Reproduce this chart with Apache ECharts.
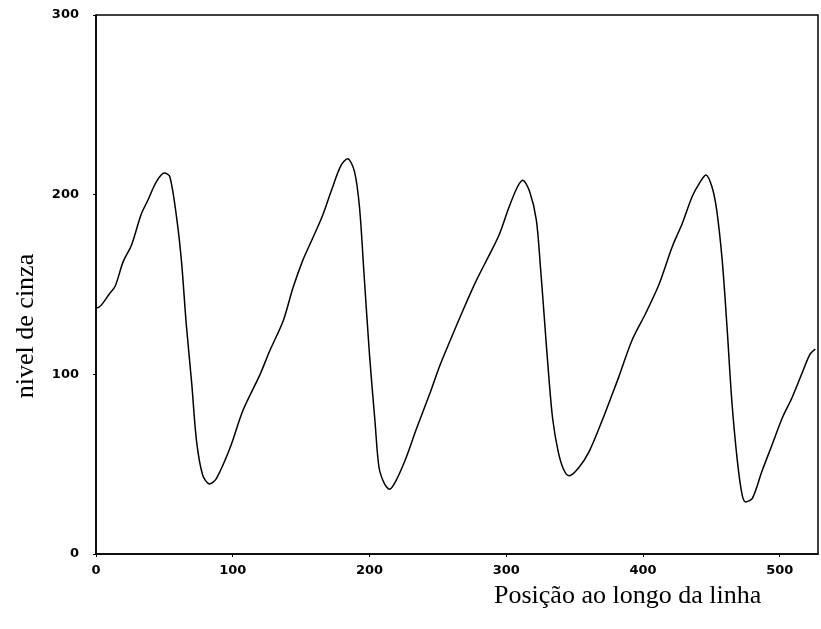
<!DOCTYPE html>
<html>
<head>
<meta charset="utf-8">
<script src="https://cdn.jsdelivr.net/npm/echarts@6/dist/echarts.min.js"></script>
<style>html,body{margin:0;padding:0;background:#fff;}#c{width:821px;height:629px;}</style>
</head>
<body>
<div id="c"></div>
<script>
const xPos = [0,1,10,14,20,26,33,38,44,50,54,59,62.5,66,70,73.5,78,83,88,98,107.5,120,127,137,144,151,158.6,166,172,179,184,189,192.7,196,200,204,207,211,214.6,219.5,227,234,244,251,258,268,278,288,295,302,308,312,317,322,325,328,331,334,338,342,346,353,360.6,370,377.6,382.5,392,402,411.7,421.4,428.7,436,441,446,450.6,454,458,461.5,465,469,472.5,475,480,487,494.5,502,509,516,522,526];
const grayLevel = [137,137,145,149,163,172,189,197,207,212,210,187,163,128,95,63,44,39,42,59,80,100,113,130,148,163,176,189,202,216,220,213,193,156,111,74,48,39,36,41,54,69,89,104,117,135,152,167,178,193,204,208,202,186,160,130,100,75,57,47,43.5,48,57,74,89,99,119,134,150,171,184,199,206,211,204,191,163,126,85,52,33,29,31,46,61,76,87,100,111,114];
const xTicks = [0,100,200,300,400,500];
const yTicks = [0,100,200,300];
const xTitle = 'Posição ao longo da linha';
const yTitle = 'nivel de cinza';

const data = xPos.map((x,i)=>[x, grayLevel[i]]);
const chart = echarts.init(document.getElementById('c'), null, {renderer:'canvas'});
const labelStyle = {color:'#000', fontFamily:'DejaVu Sans', fontWeight:'bold', fontSize:13};
chart.setOption({
  animation:false,
  backgroundColor:'#fff',
  grid:{left:96,right:3,top:15,bottom:75,show:true,borderColor:'#000',borderWidth:1.5,backgroundColor:'transparent'},
  xAxis:{type:'value',min:0,max:528,interval:100,
    axisLine:{show:true,onZero:false,lineStyle:{color:'#000',width:1.5}},
    axisTick:{show:true,length:3,lineStyle:{color:'#000'}},
    splitLine:{show:false},
    axisLabel:Object.assign({margin:10,showMaxLabel:false,formatter:v=>xTicks.includes(v)?String(v):''},labelStyle)},
  yAxis:{type:'value',min:0,max:300,interval:100,
    axisLine:{show:true,lineStyle:{color:'#000',width:1.5}},
    axisTick:{show:true,length:3,lineStyle:{color:'#000'}},
    splitLine:{show:false},
    axisLabel:Object.assign({margin:17,formatter:v=>yTicks.includes(v)?String(v):''},labelStyle)},
  graphic:[
    {type:'text',left:494,top:583,style:{text:xTitle,font:'26px "Liberation Serif"',fill:'#000'}},
    {type:'text',x:26,y:326,rotation:Math.PI/2,style:{text:yTitle,font:'26px "Liberation Serif"',fill:'#000',textAlign:'center',textVerticalAlign:'middle'}}
  ],
  series:[{type:'line',data:data,showSymbol:false,smooth:0.3,lineStyle:{color:'#000',width:1.5},clip:true}]
});
</script>
</body>
</html>
